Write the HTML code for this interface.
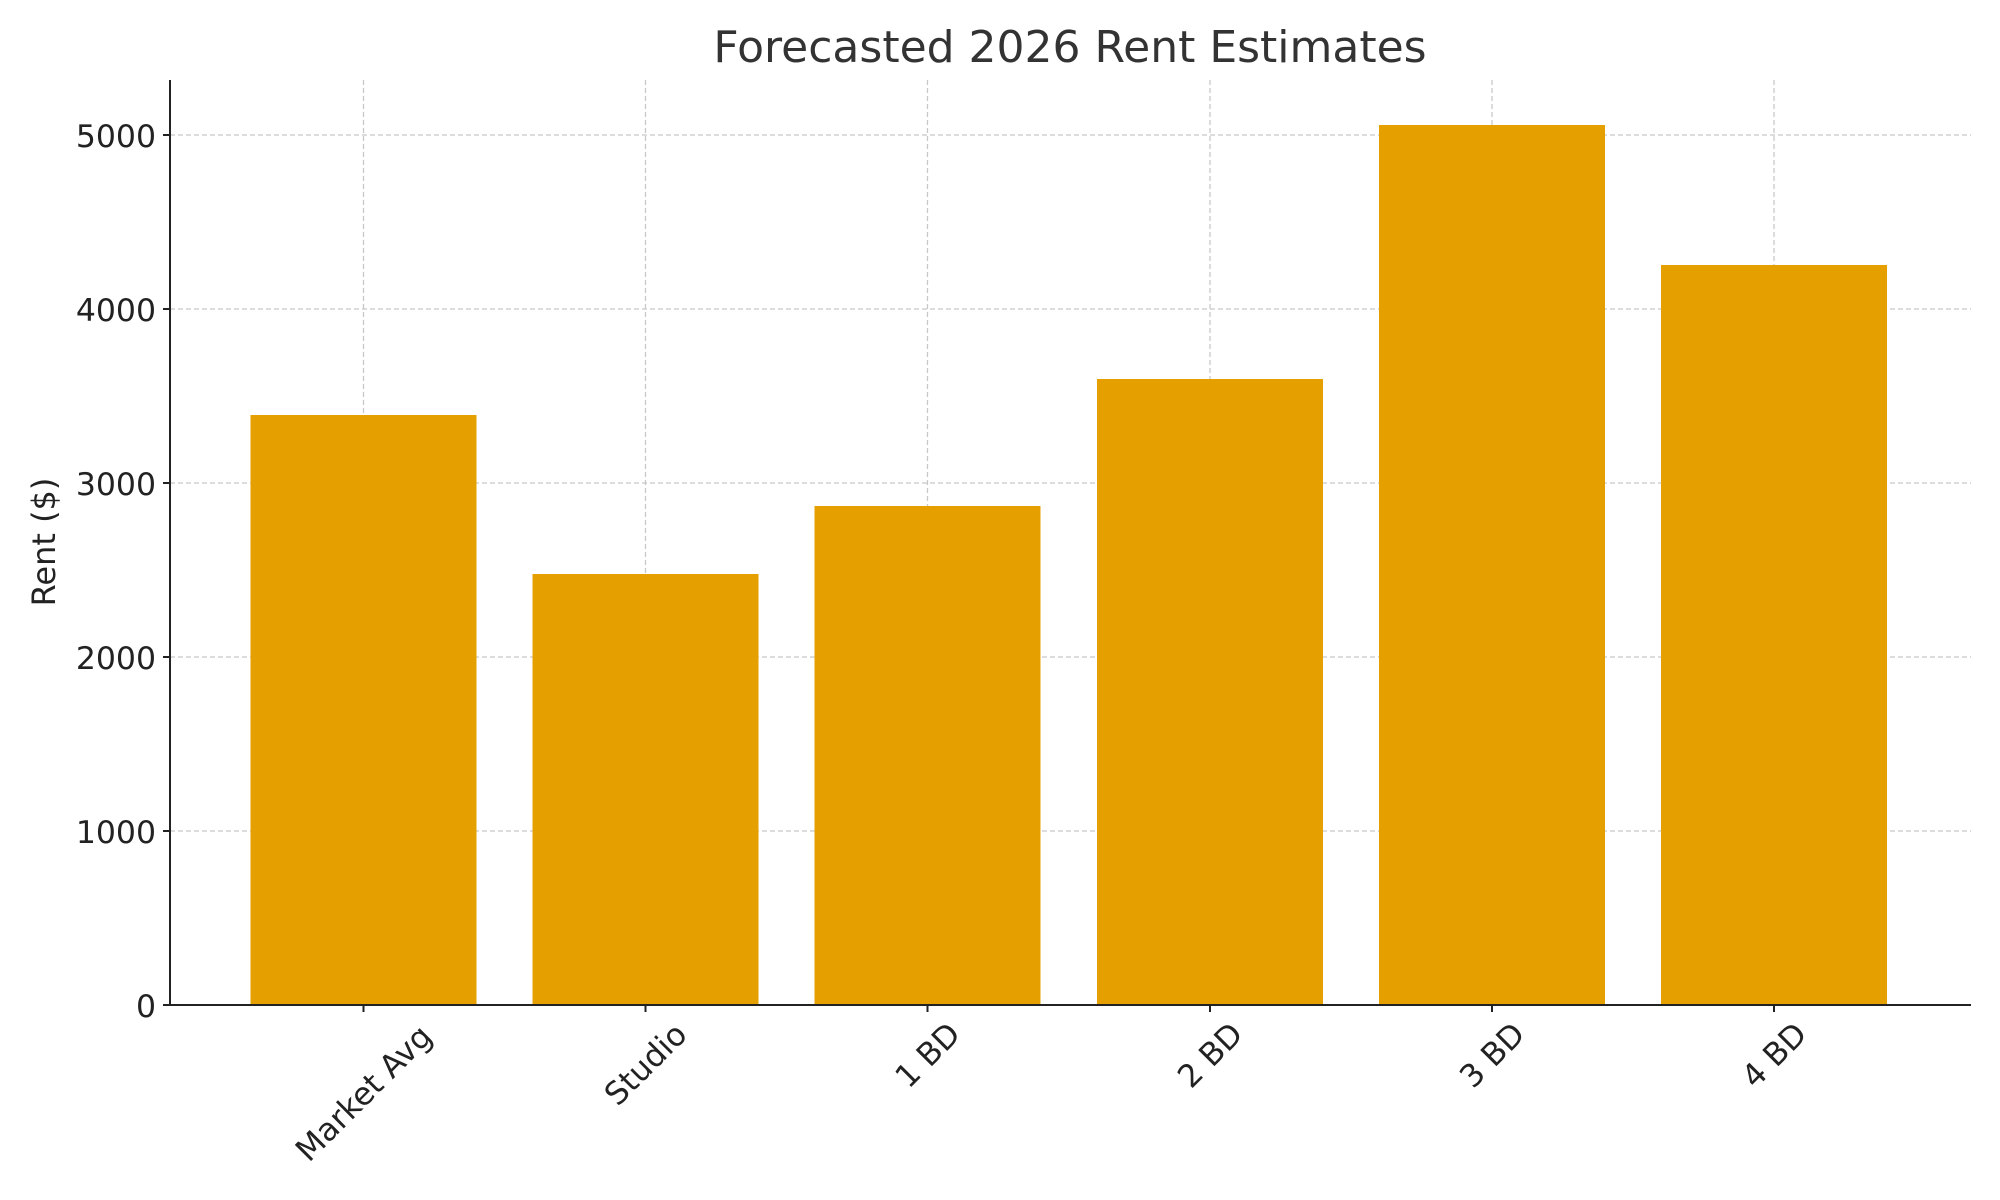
<!DOCTYPE html>
<html><head><style>html,body{margin:0;padding:0;background:#fff}svg{display:block}</style></head><body>
<svg width="2000" height="1200" viewBox="0 0 2000 1200" xmlns="http://www.w3.org/2000/svg" font-family="DejaVu Sans, Liberation Sans, sans-serif">
<rect width="2000" height="1200" fill="#fff"/>
<g stroke="#c8c8c8" stroke-width="1.3" stroke-dasharray="5,3">
<line x1="170" x2="1971" y1="135" y2="135"/>
<line x1="170" x2="1971" y1="309" y2="309"/>
<line x1="170" x2="1971" y1="483" y2="483"/>
<line x1="170" x2="1971" y1="657" y2="657"/>
<line x1="170" x2="1971" y1="831" y2="831"/>
<line x1="363.5" x2="363.5" y1="80" y2="1005"/>
<line x1="645.5" x2="645.5" y1="80" y2="1005"/>
<line x1="927.5" x2="927.5" y1="80" y2="1005"/>
<line x1="1210" x2="1210" y1="80" y2="1005"/>
<line x1="1492" x2="1492" y1="80" y2="1005"/>
<line x1="1774" x2="1774" y1="80" y2="1005"/>
</g>
<g fill="#e5a000">
<rect x="250.5" y="415" width="226" height="590"/>
<rect x="532.5" y="574" width="226" height="431"/>
<rect x="814.5" y="506" width="226" height="499"/>
<rect x="1097" y="379" width="226" height="626"/>
<rect x="1379" y="125" width="226" height="880"/>
<rect x="1661" y="265" width="226" height="740"/>
</g>
<g stroke="#222" stroke-width="2">
<line x1="170" y1="80" x2="170" y2="1006"/>
<line x1="169" y1="1005" x2="1971" y2="1005"/>
<line x1="163" x2="170" y1="135" y2="135"/><line x1="163" x2="170" y1="309" y2="309"/><line x1="163" x2="170" y1="483" y2="483"/><line x1="163" x2="170" y1="657" y2="657"/><line x1="163" x2="170" y1="831" y2="831"/><line x1="163" x2="170" y1="1005" y2="1005"/>
<line x1="363.5" x2="363.5" y1="1005" y2="1012"/><line x1="645.5" x2="645.5" y1="1005" y2="1012"/><line x1="927.5" x2="927.5" y1="1005" y2="1012"/><line x1="1210" x2="1210" y1="1005" y2="1012"/><line x1="1492" x2="1492" y1="1005" y2="1012"/><line x1="1774" x2="1774" y1="1005" y2="1012"/>
</g>
<g font-size="31.5" fill="#222" text-anchor="end">
<text x="156" y="147">5000</text><text x="156" y="321">4000</text><text x="156" y="495">3000</text><text x="156" y="669">2000</text><text x="156" y="843">1000</text><text x="156" y="1017">0</text>
</g>
<g font-size="31.5" fill="#222" text-anchor="middle">
<text transform="translate(363.5,1093) rotate(-45)" dy="11">Market Avg</text>
<text transform="translate(645.5,1064) rotate(-45)" dy="11">Studio</text>
<text transform="translate(927.5,1055) rotate(-45)" dy="11">1 BD</text>
<text transform="translate(1210,1055) rotate(-45)" dy="11">2 BD</text>
<text transform="translate(1492,1055) rotate(-45)" dy="11">3 BD</text>
<text transform="translate(1774,1055) rotate(-45)" dy="11">4 BD</text>
</g>
<text transform="translate(55,542) rotate(-90)" font-size="32" fill="#222" text-anchor="middle">Rent ($)</text>
<text x="1070" y="62" font-size="44" fill="#333" text-anchor="middle">Forecasted 2026 Rent Estimates</text>
</svg>
</body></html>
